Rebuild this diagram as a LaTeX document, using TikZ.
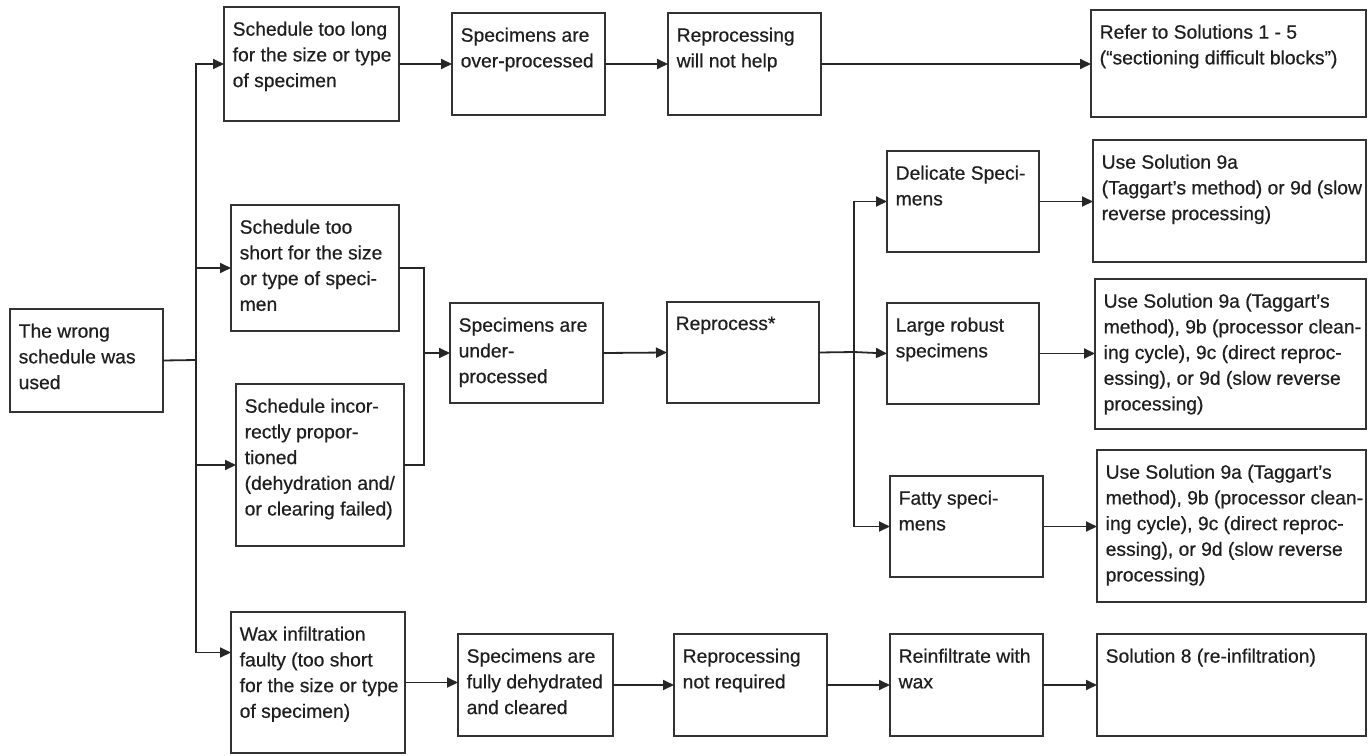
\documentclass[tikz,border=0pt]{standalone}
\usepackage{fontspec}
\setmainfont{Liberation Sans}[FakeBold=0.5]
\usetikzlibrary{arrows.meta,calc}
\tikzset{
  boxst/.style={draw=black!80, line width=1.8pt, fill=white, inner sep=0pt, outer sep=0pt},
  txtst/.style={inner sep=0pt, align=left, font=\fontsize{19.3}{25.7}\selectfont, text=black!88},
  ln/.style={line width=1.8pt, draw=black!85},
  arr/.style={ln, -{Triangle[length=11pt,width=10pt]}},
}
\newcommand\bx[6]{%
  \node[boxst, minimum width={(#4-#2)*1pt}, minimum height={(#5-#3)*1pt}] (#1) at ({(#2+#4)/2},{(#3+#5)/2}) {};
  \node[txtst, anchor=north west] (#1t) at ([xshift=8.5pt,yshift=-14.5pt]#1.north west) {#6};
}
\begin{document}
\begin{tikzpicture}[x=1pt,y=-1pt]
\useasboundingbox (0,0) rectangle (1368,755);
\bx{A}{10}{309}{163}{412}{The wrong\\schedule was\\used}
\bx{B1}{224}{7}{399}{121}{Schedule too long\\for the size or type\\of specimen}
\bx{B2}{231}{205}{399}{331}{Schedule too\\short for the size\\or type of speci-\\men}
\bx{B3}{236}{384}{404}{546}{Schedule incor-\\rectly propor-\\tioned\\(dehydration and/\\or clearing failed)}
\bx{B4}{231}{612}{405}{753}{Wax infiltration\\faulty (too short\\for the size or type\\of specimen)}
\bx{C1}{452}{13}{605}{115}{Specimens are\\over-processed}
\bx{D1}{668}{13}{821}{115}{Reprocessing\\will not help}
\bx{E1}{1091}{10}{1366}{117}{Refer to Solutions 1 - 5\\(“sectioning difficult blocks”)}
\bx{C2}{450}{303}{603}{403}{Specimens are\\under-\\processed}
\bx{D2}{667}{302}{819}{403}{Reprocess*}
\bx{F1}{887}{151}{1039}{252}{Delicate Speci-\\mens}
\bx{F2}{887}{303}{1039}{404}{Large robust\\specimens}
\bx{F3}{890}{476}{1043}{577}{Fatty speci-\\mens}
\bx{G1}{1093}{140}{1366}{262}{Use Solution 9a\\(Taggart’s method) or 9d (slow\\reverse processing)}
\bx{G2}{1095}{279}{1366}{429}{Use Solution 9a (Taggart’s\\method), 9b (processor clean-\\ing cycle), 9c (direct reproc-\\essing), or 9d (slow reverse\\processing)}
\bx{G3}{1097}{450}{1366}{602}{Use Solution 9a (Taggart’s\\method), 9b (processor clean-\\ing cycle), 9c (direct reproc-\\essing), or 9d (slow reverse\\processing)}
\bx{C3}{458}{634}{613}{736}{Specimens are\\fully dehydrated\\and cleared}
\bx{D3}{674}{634}{827}{736}{Reprocessing\\not required}
\bx{F4}{890}{634}{1043}{736}{Reinfiltrate with\\wax}
\bx{G4}{1097}{634}{1366}{736}{Solution 8 (re-infiltration)}
% trunk
\coordinate (tr) at (196,360);
\draw[ln] (A.east) -- (tr);
\draw[arr] (tr) |- (B1.west);
\draw[arr] (tr) |- (B2.west);
\draw[arr] (tr) |- (B3.west);
\draw[arr] (tr) |- ([yshift=30pt]B4.west);
% top row
\draw[arr] (B1.east) -- (C1.west);
\draw[arr] (C1.east) -- (D1.west);
\draw[arr] (D1.east) -- (D1.east -| E1.west);
% merge
\coordinate (jn) at (424,353);
\draw[ln] (B2.east) -| (jn |- B3.east) -- (B3.east);
\draw[arr] (jn) -- (C2.west);
\draw[arr] (C2.east) -- (D2.west);
% distribution
\coordinate (dj) at (854,352);
\draw[ln] (D2.east) -- (dj);
\draw[arr] (dj) |- (F1.west);
\draw[arr] (dj) -- (F2.west);
\draw[arr] (dj) |- (F3.west);
\draw[arr] (F1.east) -- (F1.east -| G1.west);
\draw[arr] (F2.east) -- (F2.east -| G2.west);
\draw[arr] (F3.east) -- (F3.east -| G3.west);
% bottom row
\draw[arr] (B4.east) -- (B4.east -| C3.west);
\draw[arr] (C3.east) -- (D3.west);
\draw[arr] (D3.east) -- (F4.west);
\draw[arr] (F4.east) -- (G4.west);
\end{tikzpicture}
\end{document}
